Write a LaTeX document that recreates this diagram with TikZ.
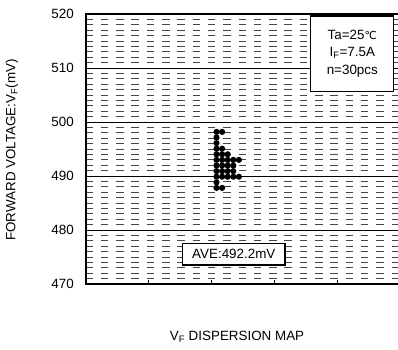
\documentclass[tikz,border=0pt]{standalone}
\usepackage{fontspec}
\setmainfont{Liberation Sans}
\newfontfamily\dvfont{DejaVu Sans}
\begin{document}
\begin{tikzpicture}[x=1pt,y=-1pt,
  lab/.style={font=\fontsize{13.4}{15}\selectfont, inner sep=0pt},
  gridline/.style={black!72, line width=0.9pt, dash pattern=on 7.5pt off 7.8pt},
  majorline/.style={black, line width=0.9pt},
  frameline/.style={black, line width=2pt},
  tickline/.style={black, line width=0.9pt},
  dotmark/.style={circle, fill=black, inner sep=0pt, minimum size=6.2pt},
  infobox/.style={draw=black, line width=1.3pt, fill=white, inner sep=0pt}]
\useasboundingbox (0,0) rectangle (398,349);
\begin{scope}
\clip (0,0) rectangle (398,349);
\foreach \j in {0,...,4}{
  \foreach \i in {1,...,9}{
    \draw[gridline] (85.5,{14+(\j*10+\i)*5.4}) -- (400,{14+(\j*10+\i)*5.4});
  }
}
\foreach \yy in {68,122,176,230}{
  \draw[majorline] (85.5,\yy) -- (400,\yy);
}
\foreach \xx in {148.5,211,274,337}{
  \draw[tickline] (\xx,284) -- (\xx,280);
}
\draw[frameline] (402,14) -- (85.5,14) -- (85.5,284) -- (402,284);
\end{scope}
% tick labels
\node[lab, anchor=east] (t520) at (74,14) {520};
\node[lab, anchor=east] (t510) at (74,68) {510};
\node[lab, anchor=east] (t500) at (74,122) {500};
\node[lab, anchor=east] (t490) at (74,176) {490};
\node[lab, anchor=east] (t480) at (74,230) {480};
\node[lab, anchor=east] (t470) at (74,284) {470};
% axis titles
\node[lab, rotate=90] (ytitle) at (12,150) {FORWARD VOLTAGE:V\textsubscript{F}(mV)};
\node[lab] (xtitle) at (237,337) {V\textsubscript{F} DISPERSION MAP};
% dots
\foreach \r/\n in {0/2,1/1,2/1,3/2,4/3,5/5,6/4,7/4,8/5,9/1,10/2}{
  \foreach \c in {1,...,\n}{
    \node[dotmark] (d\r-\c) at ({216.5+(\c-1)*5.6},{131.9+\r*5.6}) {};
  }
}
% info box
\node[infobox, minimum width=83pt, minimum height=75.7pt] (info) at (352.3,53.8) {};
\node[lab] (ta) at (352.3,35) {Ta=25{\dvfont\fontsize{11}{13}\selectfont ℃}};
\node[lab] (if) at (352.3,53) {I\textsubscript{F}=7.5A};
\node[lab] (nn) at (352.3,71.5) {n=30pcs};
% average box
\node[infobox, minimum width=102.3pt, minimum height=21.7pt] (avebox) at (233.8,254.2) {};
\node[lab] (ave) at (233.8,254.2) {AVE:492.2mV};
\end{tikzpicture}
\end{document}
